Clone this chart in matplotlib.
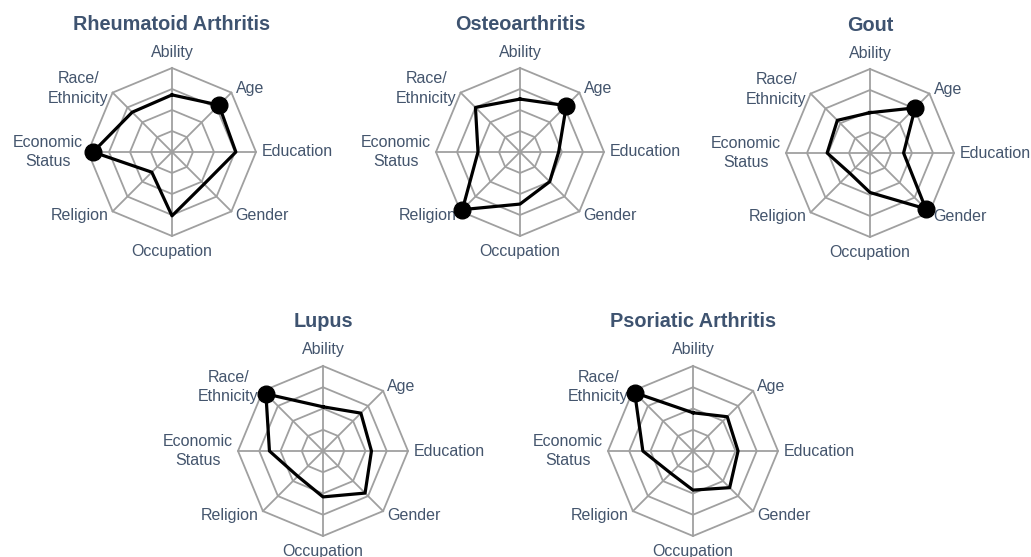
import numpy as np
import matplotlib
matplotlib.use("Agg")
import matplotlib.pyplot as plt

plt.rcParams['font.family'] = ['Liberation Sans', 'DejaVu Sans']

categories = ["Ability", "Age", "Education", "Gender", "Occupation",
              "Religion", "Economic\nStatus", "Race/\nEthnicity"]

titles = ["Rheumatoid Arthritis", "Osteoarthritis", "Gout", "Lupus", "Psoriatic Arthritis"]

ra_values = [0.68, 0.79, 0.76, 0.54, 0.76, 0.34, 0.94, 0.67]
oa_values = [0.63, 0.78, 0.46, 0.50, 0.62, 0.97, 0.50, 0.75]
gout_values = [0.48, 0.76, 0.40, 0.94, 0.47, 0.34, 0.51, 0.55]
lupus_values = [0.52, 0.63, 0.57, 0.70, 0.54, 0.42, 0.63, 0.95]
psa_values = [0.45, 0.57, 0.53, 0.61, 0.46, 0.37, 0.59, 0.97]

ra_marked = ["Age", "Economic\nStatus"]
oa_marked = ["Age", "Religion"]
gout_marked = ["Age", "Gender"]
lupus_marked = ["Race/\nEthnicity"]
psa_marked = ["Race/\nEthnicity"]

ring_levels = [0.25, 0.5, 0.75, 1.0]

series = [ra_values, oa_values, gout_values, lupus_values, psa_values]
marked = [ra_marked, oa_marked, gout_marked, lupus_marked, psa_marked]

W, H = 1031, 557
# chart centres (px) and radii (px)
centres = [(172, 152, 84), (520, 152, 84), (870, 153, 84), (323, 451, 85), (693, 451, 85)]

TITLE_C = "#3e5370"
LABEL_C = "#44556d"
GRID_C = "#a0a0a0"

fig = plt.figure(figsize=(W / 100, H / 100), dpi=100)

n = len(categories)
angles = np.linspace(0, 2 * np.pi, n, endpoint=False)

# label placement: (radius, ha, va)
label_pos = [(1.19, "center", "center"), (1.07, "left", "center"), (1.07, "left", "center"),
             (1.07, "left", "center"), (1.18, "center", "center"), (1.07, "right", "center"),
             (1.06, "right", "center"), (1.07, "right", "center")]

for title, vals, mk, (cx, cy, R) in zip(titles, series, marked, centres):
    ax = fig.add_axes([(cx - R) / W, (H - cy - R) / H, 2 * R / W, 2 * R / H], projection="polar")
    ax.set_theta_offset(np.pi / 2)
    ax.set_theta_direction(-1)
    ax.set_ylim(0, 1)
    ax.grid(False)
    ax.spines["polar"].set_visible(False)
    ax.set_xticks([])
    ax.set_yticks([])
    ax.patch.set_visible(False)

    closed = np.concatenate([angles, angles[:1]])
    for r in ring_levels:
        ax.plot(closed, [r] * (n + 1), color=GRID_C, lw=1.3, zorder=1, clip_on=False)
    for a in angles:
        ax.plot([a, a], [0, 1], color=GRID_C, lw=1.3, zorder=1, clip_on=False)

    v = list(vals) + [vals[0]]
    ax.plot(closed, v, color="black", lw=2.3, zorder=3, clip_on=False)
    for cat, a, val in zip(categories, angles, vals):
        if cat in mk:
            ax.plot([a], [val], marker="o", color="black", markersize=12, zorder=4, clip_on=False)

    for cat, a, (lr, ha, va) in zip(categories, angles, label_pos):
        ax.text(a, lr, cat, ha=ha, va=va, fontsize=11.5, color=LABEL_C,
                linespacing=1.35, multialignment="center")

    ax.text(0.5, 1.26, title, transform=ax.transAxes, ha="center", va="center",
            fontsize=14.3, fontweight="bold", color=TITLE_C)

fig.savefig("out.png", dpi=100, facecolor="white")
